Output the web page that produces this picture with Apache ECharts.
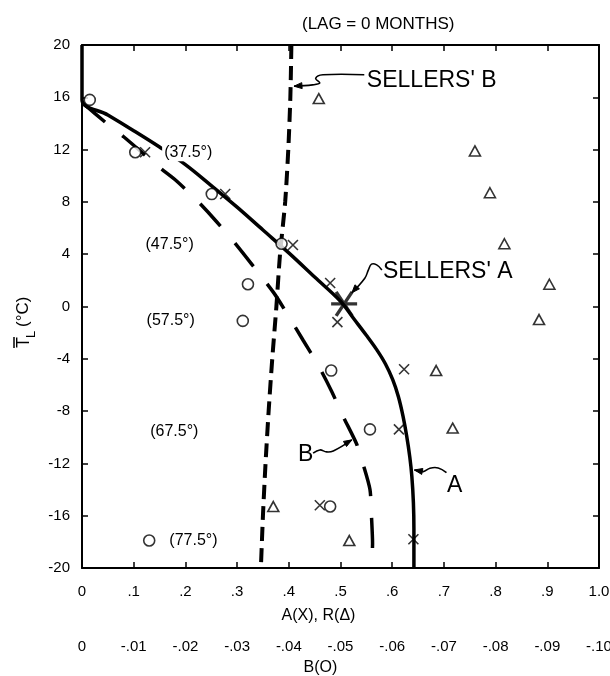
<!DOCTYPE html>
<html>
<head>
<meta charset="utf-8">
<script src="https://cdn.jsdelivr.net/npm/echarts@6/dist/echarts.min.js"></script>
<style>
  html, body { margin: 0; padding: 0; background: #fff; }
  #chart { width: 610px; height: 676px; }
</style>
</head>
<body>
<div id="chart"></div>
<script>
// ---- values --------------------------------------------------------------
// Coefficient A (X) against mean zonal temperature, one point per latitude band
const aPoints = [
  [0.122, 11.8], [0.277, 8.6], [0.408, 4.7], [0.48, 1.8], [0.494, -1.2],
  [0.623, -4.8], [0.613, -9.4], [0.46, -15.2], [0.641, -17.8]
];
// Coefficient B (O), read on the lower B scale
const bPoints = [
  [-0.0015, 15.8], [-0.0103, 11.8], [-0.0251, 8.6], [-0.0386, 4.8], [-0.0321, 1.7],
  [-0.0311, -1.1], [-0.0482, -4.9], [-0.0557, -9.4], [-0.048, -15.3], [-0.013, -17.9]
];
// Correlation R (triangle)
const rPoints = [
  [0.458, 15.9], [0.76, 11.9], [0.789, 8.7], [0.817, 4.8], [0.904, 1.7],
  [0.884, -1.0], [0.685, -4.9], [0.717, -9.3], [0.37, -15.3], [0.517, -17.9]
];
// Fitted curve A (solid)
const curveA = [
  [0, 20], [0, 15.8], [0.05, 14.65], [0.1, 13.45], [0.15, 12.2], [0.2, 10.85],
  [0.25, 9.25], [0.3, 7.6], [0.35, 5.85], [0.4, 4.1], [0.45, 2.25], [0.5, 0.4],
  [0.525, -0.9], [0.55, -2.2], [0.57, -3.3], [0.587, -4.4], [0.601, -5.6],
  [0.612, -6.9], [0.621, -8.4], [0.628, -9.9], [0.634, -11.5], [0.638, -13.0],
  [0.641, -15.0], [0.642, -17.0], [0.642, -20]
];
// Fitted curve B (long dashes), B scale
const curveB = [
  [0, 15.6], [-0.0048, 14.0], [-0.008, 13.0], [-0.0151, 10.6], [-0.0183, 9.6],
  [-0.0225, 8.0], [-0.026, 6.5], [-0.0299, 4.7], [-0.0331, 3.1], [-0.037, 1.1],
  [-0.0396, -0.5], [-0.0428, -2.6], [-0.0457, -4.5], [-0.0483, -6.5], [-0.0505, -8.4],
  [-0.0531, -10.5], [-0.0544, -12.1], [-0.0557, -14.0], [-0.056, -16.1],
  [-0.0562, -18.1], [-0.056, -20]
];
// Sellers' model B (short dashes), B scale
const sellersB = [
  [-0.0405, 20], [-0.0403, 16], [-0.0399, 12], [-0.0393, 8], [-0.0383, 4],
  [-0.0376, 0], [-0.0368, -4], [-0.0361, -8], [-0.0355, -12], [-0.035, -16], [-0.0346, -20]
];
// Sellers' model A
const sellersA = [[0.507, 0.2]];
// Latitude band names
const bandLabels = ['(37.5°)', '(47.5°)', '(57.5°)', '(67.5°)', '(77.5°)'];
// Axis tick values
const xTicksA = [0, 0.1, 0.2, 0.3, 0.4, 0.5, 0.6, 0.7, 0.8, 0.9, 1.0];
const yTicks = [-20, -16, -12, -8, -4, 0, 4, 8, 12, 16, 20];

// ---- drawing -------------------------------------------------------------
const FONT = '"Liberation Sans", Arial, sans-serif';
const chart = echarts.init(document.getElementById('chart'), null, { renderer: 'canvas' });

const axisLineStyle = { color: '#000', width: 2 };
const tickStyle = { color: '#000', width: 1.5 };

const option = {
  animation: false,
  backgroundColor: '#fff',
  grid: { left: 82, right: 11, top: 45, bottom: 108, containLabel: false, outerBoundsMode: 'none' },
  xAxis: [
    {
      type: 'value', position: 'bottom',
      min: xTicksA[0], max: xTicksA[xTicksA.length - 1], interval: 0.1,
      axisLine: { show: true, onZero: false, lineStyle: axisLineStyle },
      axisTick: { show: true, inside: true, length: 6, lineStyle: tickStyle },
      splitLine: { show: false },
      axisLabel: {
        color: '#000', fontSize: 15, fontFamily: FONT, margin: 16,
        formatter: v => { const n = Math.round(v * 10); return n === 0 ? '0' : (n === 10 ? '1.0' : '.' + n); }
      },
      name: 'A(X), R(\u0394)', nameLocation: 'middle', nameGap: 40,
      nameTextStyle: { color: '#000', fontSize: 16, fontFamily: FONT, padding: [0, 44, 0, 0] }
    },
    {
      type: 'value', position: 'bottom', offset: 55,
      min: -0.1, max: 0, interval: 0.01, inverse: true,
      axisLine: { show: false, onZero: false }, axisTick: { show: false }, splitLine: { show: false },
      axisLabel: {
        color: '#000', fontSize: 15, fontFamily: FONT, margin: 16,
        formatter: v => { const n = Math.round(Math.abs(v) * 100); return n === 0 ? '0' : '-.' + String(n).padStart(2, '0'); }
      },
      name: 'B(O)', nameLocation: 'middle', nameGap: 37,
      nameTextStyle: { color: '#000', fontSize: 16, fontFamily: FONT, padding: [0, 40, 0, 0] }
    },
    {
      type: 'value', position: 'top', min: 0, max: 1, interval: 0.1,
      axisLine: { show: true, onZero: false, lineStyle: axisLineStyle },
      axisTick: { show: true, inside: true, length: 6, lineStyle: tickStyle },
      axisLabel: { show: false }, splitLine: { show: false }
    }
  ],
  yAxis: [
    {
      type: 'value', position: 'left',
      min: yTicks[0], max: yTicks[yTicks.length - 1], interval: 4,
      axisLine: { show: true, onZero: false, lineStyle: axisLineStyle },
      axisTick: { show: true, inside: true, length: 6, lineStyle: tickStyle },
      splitLine: { show: false },
      axisLabel: { color: '#000', fontSize: 15, fontFamily: FONT, margin: 12 }
    },
    {
      type: 'value', position: 'right', min: -20, max: 20, interval: 4,
      axisLine: { show: true, onZero: false, lineStyle: axisLineStyle },
      axisTick: { show: true, inside: true, length: 6, lineStyle: tickStyle },
      axisLabel: { show: false }, splitLine: { show: false }
    }
  ],
  series: [
    {
      name: 'A', type: 'line', data: curveA, xAxisIndex: 0, yAxisIndex: 0,
      showSymbol: false, smooth: 0.35, z: 2,
      lineStyle: { color: '#000', width: 3.5, cap: 'butt' }
    },
    {
      name: 'B', type: 'line', data: curveB, xAxisIndex: 1, yAxisIndex: 0,
      showSymbol: false, smooth: 0.25, z: 2,
      lineStyle: { color: '#000', width: 3.5, type: [30, 22], cap: 'butt' }
    },
    {
      name: "Sellers' B", type: 'line', data: sellersB, xAxisIndex: 1, yAxisIndex: 0,
      showSymbol: false, smooth: 0.25, z: 2,
      lineStyle: { color: '#000', width: 4, type: [14, 7], cap: 'butt' }
    },
    {
      name: 'B(O)', type: 'scatter', data: bPoints, xAxisIndex: 1, yAxisIndex: 0, z: 4,
      symbol: 'circle', symbolSize: 11,
      itemStyle: { color: '#fff', borderColor: '#000', borderWidth: 1.6 }
    },
    {
      name: 'A(X)', type: 'scatter', data: aPoints, xAxisIndex: 0, yAxisIndex: 0, z: 4,
      symbol: 'path://M0,0L10,10M10,0L0,10', symbolSize: 10,
      itemStyle: { color: 'rgba(0,0,0,0)', borderColor: '#000', borderWidth: 1.6 }
    },
    {
      name: 'R', type: 'scatter', data: rPoints, xAxisIndex: 0, yAxisIndex: 0, z: 4,
      symbol: 'triangle', symbolSize: [11, 10],
      itemStyle: { color: '#fff', borderColor: '#000', borderWidth: 1.6 }
    },
    {
      name: "Sellers' A", type: 'scatter', data: sellersA, xAxisIndex: 0, yAxisIndex: 0, z: 5,
      symbol: 'path://M0,11H26M5,1L21,21M21,1L5,21', symbolSize: [26, 24],
      itemStyle: { color: 'rgba(0,0,0,0)', borderColor: '#000', borderWidth: 3.2 }
    }
  ]
};
chart.setOption(option);

// ---- annotations placed in data space ------------------------------------
const toPx = p => chart.convertToPixel({ xAxisIndex: 0, yAxisIndex: 0 }, p);

const textItems = [
  { text: bandLabels[0], at: [0.155, 11.8], size: 16, bg: true },
  { text: bandLabels[1], at: [0.119, 4.7], size: 16, bg: true },
  { text: bandLabels[2], at: [0.121, -1.1], size: 16, bg: true },
  { text: bandLabels[3], at: [0.128, -9.6], size: 16, bg: true },
  { text: bandLabels[4], at: [0.165, -17.9], size: 16, bg: true },
  { text: "SELLERS' B", at: [0.551, 17.3], size: 23 },
  { text: "SELLERS' A", at: [0.582, 2.7], size: 23 },
  { text: 'B', at: [0.418, -11.3], size: 23 },
  { text: 'A', at: [0.706, -13.7], size: 23 }
];

const leaders = [
  [[0.546, 17.72], [0.466, 17.72], [0.452, 17.45], [0.46, 17.1], [0.446, 16.95], [0.41, 16.85]],
  [[0.58, 2.8], [0.57, 3.18], [0.56, 3.24], [0.554, 2.8], [0.547, 2.16], [0.522, 1.05]],
  [[0.447, -11.22], [0.46, -10.97], [0.473, -11.12], [0.486, -11.05], [0.522, -10.2]],
  [[0.705, -12.71], [0.689, -12.35], [0.673, -12.37], [0.66, -12.63], [0.643, -12.5]]
];

function buildGraphics() {
  const els = [];
  textItems.forEach(t => {
    const p = toPx(t.at);
    const style = {
      text: t.text, x: p[0], y: p[1],
      font: t.size + 'px ' + FONT, fill: '#000',
      textAlign: 'left', textVerticalAlign: 'middle', align: 'left', verticalAlign: 'middle'
    };
    if (t.bg) { style.backgroundColor = '#fff'; style.padding = [1, 2, 1, 2]; }
    els.push({ type: 'text', z: 50, style });
  });
  leaders.forEach(pts => {
    const px = pts.map(toPx);
    els.push({
      type: 'polyline', z: 50,
      shape: { points: px, smooth: 0.4 },
      style: { stroke: '#000', lineWidth: 1.6, fill: null }
    });
    const tip = px[px.length - 1], prev = px[px.length - 2];
    const dx = tip[0] - prev[0], dy = tip[1] - prev[1];
    const len = Math.hypot(dx, dy) || 1;
    const ux = dx / len, uy = dy / len;
    const L = 8, W = 3;
    const bx = tip[0] - ux * L, by = tip[1] - uy * L;
    els.push({
      type: 'polygon', z: 51,
      shape: { points: [tip, [bx - uy * W, by + ux * W], [bx + uy * W, by - ux * W]] },
      style: { fill: '#000', stroke: '#000', lineWidth: 1 }
    });
  });
  // title above the plot
  const tp = toPx([0.573, 20]);
  els.push({
    type: 'text', z: 50,
    style: {
      text: '(LAG = 0 MONTHS)', x: tp[0], y: 24, font: '17px ' + FONT, fill: '#000',
      textAlign: 'center', textVerticalAlign: 'middle', align: 'center', verticalAlign: 'middle'
    }
  });
  // vertical axis title: T with overbar, subscript L, then (°C)
  els.push({
    type: 'group', x: 24, y: 317, rotation: Math.PI / 2, z: 50,
    children: [
      { type: 'text', style: { text: 'T', x: -31, y: 0, font: '18px ' + FONT, fill: '#000', align: 'left', verticalAlign: 'middle', textAlign: 'left', textVerticalAlign: 'middle' } },
      { type: 'line', shape: { x1: -31, y1: -10, x2: -20, y2: -10 }, style: { stroke: '#000', lineWidth: 1.5 } },
      { type: 'text', style: { text: 'L', x: -21, y: 7, font: '13px ' + FONT, fill: '#000', align: 'left', verticalAlign: 'middle', textAlign: 'left', textVerticalAlign: 'middle' } },
      { type: 'text', style: { text: '(°C)', x: -10, y: -1, font: '17px ' + FONT, fill: '#000', align: 'left', verticalAlign: 'middle', textAlign: 'left', textVerticalAlign: 'middle' } }
    ]
  });
  return els;
}

chart.setOption({ graphic: { elements: buildGraphics() } });
</script>
</body>
</html>
